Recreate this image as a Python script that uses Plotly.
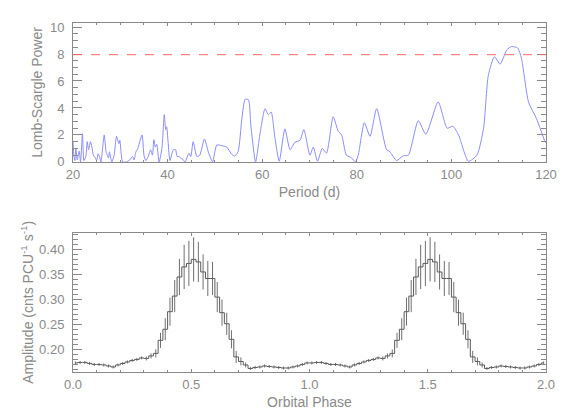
import plotly.graph_objects as go
from plotly.subplots import make_subplots

# Lomb-Scargle periodogram (period in days, power)
period = [20.0, 20.2, 20.4, 20.6, 20.9, 21.3, 21.6, 22.0, 22.3, 22.7, 23.0, 23.3, 23.7, 24.0,
          24.3, 24.7, 25.0, 25.3, 25.6, 25.9, 26.6, 27.0, 27.5, 27.7, 28.2, 28.7, 29.2, 29.7,
          29.9, 30.5, 31.3, 32.0, 32.6, 32.9, 33.3, 33.6, 34.6, 35.0, 35.4, 35.9, 36.4, 36.8,
          37.1, 37.4, 37.7, 38.2, 38.8, 39.3, 39.6, 39.8, 40.1, 40.5, 41.2, 41.7, 42.0, 42.5,
          42.8, 43.2, 43.7, 44.5, 44.9, 45.4, 46.2, 46.8, 47.8, 48.6, 49.5, 50.4, 51.5, 52.5,
          53.6, 54.2, 54.9, 55.7, 56.4, 57.1, 57.6, 58.6, 59.5, 60.6, 61.3, 61.9, 62.7, 63.6,
          64.8, 65.9, 66.9, 68.0, 68.8, 70.1, 70.8, 71.7, 72.7, 73.6, 75.0, 76.1, 76.8, 77.8,
          78.9, 79.7, 80.3, 81.6, 82.8, 84.2, 86.3, 87.0, 88.4, 89.8, 90.9, 93.0, 94.6, 97.2,
          99.1, 100.3, 101.5, 103.6, 105.4, 106.8, 107.8, 109.1, 110.3, 111.7, 112.7, 114.0,
          114.8, 116.3, 118.0, 119.8, 120.0]
power = [1.5, 0.4, 0.1, 1.0, 0.15, 0.8, 0.0, 2.1, 0.1, 0.4, 1.5, 0.9, 1.5, 1.1,
         0.5, 0.3, 0.1, 0.6, 0.4, 0.0, 2.0, 0.75, 0.3, 0.75, 0.0, 0.5, 1.9, 1.35,
         1.6, 0.0, 0.0, 0.15, 0.4, 0.14, 0.75, 0.9, 2.0, 0.5, 0.1, 0.4, 0.9, 0.5,
         1.65, 1.1, 1.3, 0.0, 1.0, 3.5, 2.4, 2.6, 1.5, 0.1, 0.9, 0.9, 0.4, 0.4,
         0.25, 0.2, 0.0, 0.64, 0.4, 1.5, 0.4, 0.5, 1.7, 0.75, 0.0, 1.25, 1.2, 1.1,
         0.55, 0.45, 0.75, 3.2, 4.65, 4.6, 2.7, 0.0, 2.0, 3.95, 3.5, 3.7, 1.75, 0.05,
         2.45, 0.9, 1.45, 1.6, 2.4, 0.5, 1.1, 0.05, 1.0, 0.65, 3.35, 2.25, 2.0, 0.5,
         0.3, 0.0, 0.5, 2.9, 1.9, 3.95, 0.9, 0.75, 0.1, 0.45, 0.5, 3.05, 2.05, 4.45,
         2.5, 2.65, 2.0, 0.05, 0.5, 2.5, 6.4, 7.8, 7.25, 8.3, 8.55, 8.45,
         7.7, 4.45, 3.2, 1.5, 1.4]
sig_level = 7.95

# folded light curve, one cycle of 50 bins (shown twice)
amp = [0.174, 0.175, 0.175, 0.173, 0.171, 0.171, 0.170, 0.168, 0.166, 0.170,
       0.173, 0.176, 0.179, 0.181, 0.184, 0.183, 0.188, 0.193, 0.219, 0.241,
       0.276, 0.307, 0.345, 0.365, 0.372, 0.380, 0.375, 0.355, 0.342, 0.342,
       0.305, 0.274, 0.252, 0.221, 0.186, 0.177, 0.170, 0.163, 0.165, 0.166,
       0.168, 0.167, 0.166, 0.165, 0.164, 0.164, 0.166, 0.168, 0.171, 0.174]
amp_err = [0.003, 0.003, 0.003, 0.003, 0.003, 0.003, 0.003, 0.003, 0.003, 0.003,
           0.003, 0.003, 0.003, 0.003, 0.003, 0.004, 0.005, 0.008, 0.015, 0.022,
           0.028, 0.032, 0.036, 0.044, 0.045, 0.044, 0.040, 0.035, 0.035, 0.033,
           0.030, 0.026, 0.022, 0.018, 0.012, 0.008, 0.005, 0.003, 0.003, 0.003,
           0.003, 0.003, 0.003, 0.003, 0.003, 0.003, 0.003, 0.003, 0.003, 0.003]
n_bins = len(amp)
phase = [(i + 0.5) / n_bins for i in range(n_bins)]
phase2 = phase + [p + 1 for p in phase]
amp2 = amp + amp
amp_err2 = amp_err + amp_err

axis_col = "#8a8a8a"
text_col = "#8a8a8a"
font = dict(family="Liberation Sans", size=14, color=text_col)
tick_font = dict(family="Liberation Sans", size=13, color=text_col)

fig = make_subplots(rows=2, cols=1, vertical_spacing=0.2)

fig.add_trace(go.Scatter(
    x=period, y=power, mode="lines",
    line=dict(color="#8c8cff", width=1, shape="spline", smoothing=0.6),
    showlegend=False), row=1, col=1)
fig.add_hline(y=sig_level, line=dict(color="#ff6666", width=1, dash="dash"), row=1, col=1)

fig.add_trace(go.Scatter(
    x=phase2, y=amp2, mode="lines",
    line=dict(color="#5a5a5a", width=1, shape="hvh"),
    error_y=dict(type="data", array=amp_err2, width=0, thickness=1, color="#707070"),
    showlegend=False), row=2, col=1)

common = dict(showline=True, linecolor=axis_col, linewidth=1, mirror="allticks",
              ticks="inside", tickcolor=axis_col, showgrid=False, zeroline=False,
              automargin=False, tickfont=tick_font, title_font=font)

fig.update_xaxes(range=[20, 120], dtick=20, ticklen=3,
                 minor=dict(dtick=5, ticklen=2, ticks="inside", tickcolor=axis_col),
                 title_text="Period (d)", title_standoff=6, **common, row=1, col=1)
fig.update_yaxes(range=[0, 10.3], tickvals=[0, 2, 4, 6, 8, 10], ticklen=9,
                 minor=dict(dtick=0.5, ticklen=5, ticks="inside", tickcolor=axis_col),
                 title_text="Lomb-Scargle Power", title_standoff=4, ticklabelstandoff=5,
                 **common, row=1, col=1)
fig.update_xaxes(range=[0, 2], tickvals=[0, 0.5, 1, 1.5, 2], tickformat=".1f", ticklen=3,
                 minor=dict(dtick=0.1, ticklen=2, ticks="inside", tickcolor=axis_col),
                 title_text="Orbital Phase", title_standoff=6, **common, row=2, col=1)
fig.update_yaxes(range=[0.156, 0.433], tickvals=[0.20, 0.25, 0.30, 0.35, 0.40],
                 tickformat=".2f", ticklen=9,
                 minor=dict(dtick=0.01, ticklen=5, ticks="inside", tickcolor=axis_col),
                 title_text="Amplitude (cnts PCU<sup>-1</sup> s<sup>-1</sup>)",
                 title_standoff=2, ticklabelstandoff=5, **common, row=2, col=1)

fig.update_layout(
    width=568, height=419,
    margin=dict(l=73, r=22, t=23, b=47),
    paper_bgcolor="white", plot_bgcolor="white",
    font=font,
)
fig.update_xaxes(domain=[0, 1])
fig.layout.yaxis.domain = [0.602, 1.0]
fig.layout.yaxis2.domain = [0.0, 0.399]

# the page body has a default margin; drop it so the figure sits at the window corner
fig.write_html("out.html", config={"displayModeBar": False},
               post_script="document.body.style.margin = '0';")
